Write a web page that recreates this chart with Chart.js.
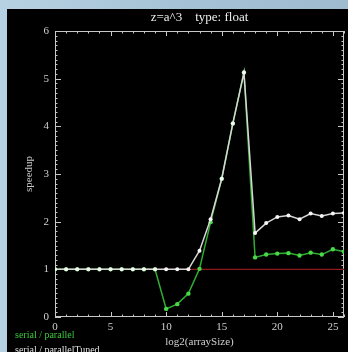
<!DOCTYPE html>
<html><head><meta charset="utf-8">
<script src="https://cdn.jsdelivr.net/npm/chart.js@4"></script>
<style>
html,body{margin:0;padding:0;}
body{width:348px;height:352px;overflow:hidden;background:linear-gradient(90deg,#b6d2e2 0%,#a6c2d6 50%,#9fbbcf 100%);position:relative;}
#panel{position:absolute;left:7px;top:9px;width:341px;height:343px;background:#000;overflow:hidden;}
#c{position:absolute;left:0;top:0;}
.leg{position:absolute;left:8px;font:10px "Liberation Serif",serif;white-space:nowrap;}
</style></head><body>
<div id="panel"><canvas id="c" width="341" height="343"></canvas>
<div class="leg" style="top:320px;color:#3cc83c">serial / parallel</div>
<div class="leg" style="top:335px;color:#e0e0e0">serial / parallelTuned</div>
</div>
<script>
const log2Sizes = [0,1,2,3,4,5,6,7,8,9,10,11,12,13,14,15,16,17,18,19,20,21,22,23,24,25,26];
const serialParallel = [1,1,1,1,1,1,1,1,1,1,0.17,0.27,0.49,1.01,1.99,2.9,4.06,5.13,1.25,1.31,1.33,1.34,1.29,1.35,1.31,1.42,1.37];
const serialParallelTuned = [1,1,1,1,1,1,1,1,1,1,1,1,1,1.39,2.05,2.9,4.06,5.13,1.76,1.97,2.1,2.13,2.05,2.17,2.12,2.17,2.18];
const refX = [0,26];
const refY = [1,1];
const xTickLabels = [0,5,10,15,20,25];
const yTickLabels = [0,1,2,3,4,5,6];

const AXIS = '#c8c8c8';
const frame = {
  id:'frame',
  beforeDatasetsDraw(chart){
    const {ctx, chartArea:a, scales:{x,y}} = chart;
    ctx.save(); ctx.strokeStyle=AXIS; ctx.lineWidth=1;
    ctx.strokeRect(a.left+0.5, a.top+0.5, a.right-a.left-1, a.bottom-a.top-1);
    ctx.beginPath();
    for (let v=x.min; v<=x.max; v++){
      const px=Math.round(x.getPixelForValue(v))+0.5;
      const L = xTickLabels.includes(v)?5:2.5;
      ctx.moveTo(px,a.bottom); ctx.lineTo(px,a.bottom-L);
      ctx.moveTo(px,a.top); ctx.lineTo(px,a.top+L);
    }
    for (let i=0;i<=60;i++){
      const py=Math.round(y.getPixelForValue(i/10))+0.5;
      const L=i%10===0?6:2.5;
      ctx.moveTo(a.left,py); ctx.lineTo(a.left+L,py);
      ctx.moveTo(a.right,py); ctx.lineTo(a.right-L,py);
    }
    ctx.stroke(); ctx.restore();
  }
};
const font = (s)=>({family:'"Liberation Serif", serif', size:s});
new Chart(document.getElementById('c'), {
  type:'line',
  data:{datasets:[
    {label:'serial / parallelTuned', data: log2Sizes.map((x,i)=>({x, y: serialParallelTuned[i]})),
     borderColor:'#d6d6d6', backgroundColor:'#f6f6f6', pointRadius:2, pointBorderWidth:0, borderWidth:1.5, order:1},
    {label:'serial / parallel', data: log2Sizes.map((x,i)=>({x, y: serialParallel[i]})),
     borderColor:'#2fae2f', backgroundColor:'#48d848', pointRadius:2.2, pointBorderWidth:0, borderWidth:1.5, order:2},
    {label:'ref', data: refX.map((x,i)=>({x, y: refY[i]})),
     borderColor:'#8e1a1a', borderWidth:1.2, pointRadius:0, order:3}
  ]},
  options:{
    responsive:false, animation:false,
    layout:{padding:{left:0,right:3,top:0,bottom:0}},
    plugins:{legend:{display:false}, tooltip:{enabled:false}},
    scales:{
      x:{type:'linear', min:0, max:26, position:'bottom',
        grid:{display:false, drawTicks:false}, border:{display:false},
        ticks:{stepSize:5, padding:4, color:'#d0d0d0', font:font(11), maxRotation:0, autoSkip:false},
        afterBuildTicks(s){ s.ticks = xTickLabels.map(v=>({value:v})); },
        title:{display:true, text:'log2(arraySize)', color:'#d0d0d0', font:font(11), padding:{top:0,bottom:3}},
        afterFit(s){ s.height=35; }},
      xTop:{type:'linear', min:0, max:26, position:'top',
        grid:{display:false, drawTicks:false}, border:{display:false}, ticks:{display:false},
        title:{display:true, text:'z=a^3    type: float', color:'#eeeeee', font:font(13), padding:{top:1,bottom:0}},
        afterFit(s){ s.height=22; }},
      y:{type:'linear', min:0, max:6, position:'left',
        grid:{display:false, drawTicks:false}, border:{display:false},
        ticks:{stepSize:1, padding:6, color:'#d0d0d0', font:font(11)},
        afterBuildTicks(s){ s.ticks = yTickLabels.map(v=>({value:v})); },
        title:{display:true, text:'speedup', color:'#c8c8c8', font:font(11), padding:{top:16,bottom:0}},
        afterFit(s){ s.width=48; }}
    }
  },
  plugins:[frame]
});
</script>
</body></html>
